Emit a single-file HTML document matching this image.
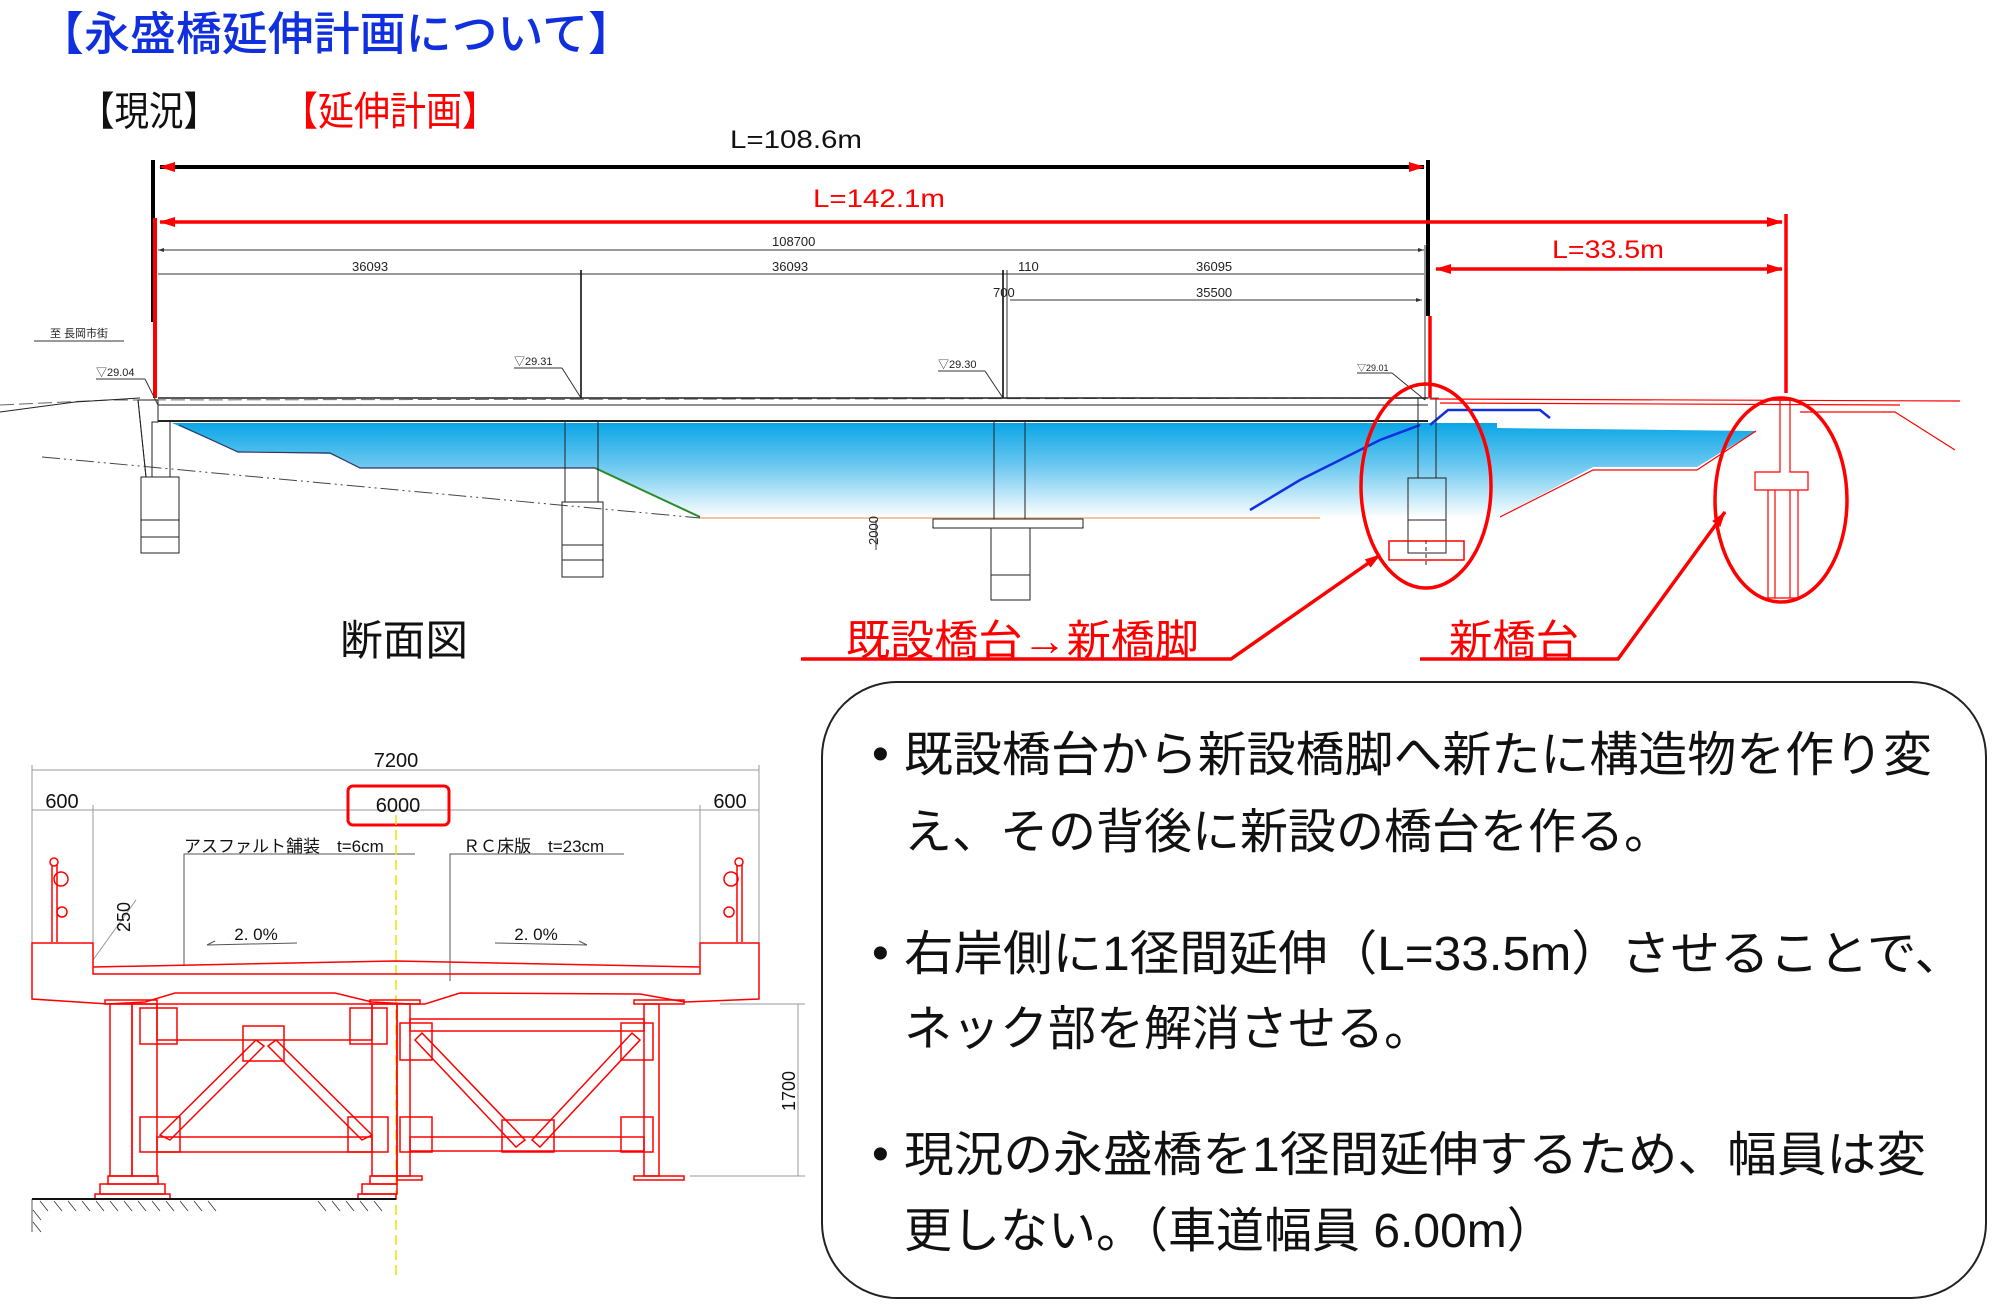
<!DOCTYPE html>
<html><head><meta charset="utf-8"><style>
html,body{margin:0;padding:0;background:#fff}
svg{display:block}
.jp{font-family:"Liberation Sans","Noto Sans CJK JP",sans-serif}
</style></head><body>
<svg width="2000" height="1310" viewBox="0 0 2000 1310" xmlns="http://www.w3.org/2000/svg" class="jp">
<defs>
<linearGradient id="wg" x1="0" y1="0" x2="0" y2="1">
<stop offset="0" stop-color="#0aa6e6"/><stop offset="0.45" stop-color="#6cc8f0"/><stop offset="1" stop-color="#ffffff"/>
</linearGradient>
<marker id="ab" markerWidth="10" markerHeight="8" refX="9" refY="4" orient="auto-start-reverse" markerUnits="userSpaceOnUse"><path d="M0,0 L10,4 L0,8 z" fill="#000"/></marker>
<marker id="ar" markerWidth="16" markerHeight="10" refX="15" refY="5" orient="auto-start-reverse" markerUnits="userSpaceOnUse"><path d="M0,0 L16,5 L0,10 z" fill="#f00"/></marker>
<marker id="sm" markerWidth="6" markerHeight="4" refX="6" refY="2" orient="auto-start-reverse" markerUnits="userSpaceOnUse"><path d="M0,0 L6,2 L0,4 z" fill="#333"/></marker>
</defs>

<text x="38" y="50" font-size="46" fill="#1030e0" font-weight="500" textLength="596" lengthAdjust="spacingAndGlyphs">【永盛橋延伸計画について】</text>
<text x="80" y="125" font-size="40" fill="#111" textLength="138" lengthAdjust="spacingAndGlyphs">【現況】</text>
<text x="282" y="125" font-size="40" fill="#f00" textLength="216" lengthAdjust="spacingAndGlyphs">【延伸計画】</text>

<text x="730" y="148" font-size="25" fill="#111" textLength="132" lengthAdjust="spacingAndGlyphs">L=108.6m</text>
<line x1="153" y1="160" x2="153" y2="322" stroke="#000" stroke-width="4"/>
<line x1="1428" y1="160" x2="1428" y2="316" stroke="#000" stroke-width="4"/>
<line x1="160" y1="167" x2="1424" y2="167" stroke="#000" stroke-width="4" marker-start="url(#ar)" marker-end="url(#ar)"/>
<text x="813" y="207" font-size="25" fill="#f00" textLength="132" lengthAdjust="spacingAndGlyphs">L=142.1m</text>
<line x1="155" y1="218" x2="155" y2="398" stroke="#f00" stroke-width="4"/>
<line x1="160" y1="222" x2="1782" y2="222" stroke="#f00" stroke-width="3.5" marker-start="url(#ar)" marker-end="url(#ar)"/>
<line x1="1786" y1="214" x2="1786" y2="393" stroke="#f00" stroke-width="3.5"/>
<line x1="1430" y1="316" x2="1430" y2="398" stroke="#f00" stroke-width="3.5"/>
<text x="1552" y="258" font-size="25" fill="#f00" textLength="112" lengthAdjust="spacingAndGlyphs">L=33.5m</text>
<line x1="1436" y1="269" x2="1782" y2="269" stroke="#f00" stroke-width="3.5" marker-start="url(#ar)" marker-end="url(#ar)"/>

<g stroke="#333" stroke-width="1" fill="none">
<line x1="158" y1="250" x2="1424" y2="250" marker-start="url(#sm)" marker-end="url(#sm)"/>
<line x1="158" y1="274" x2="1424" y2="274"/>
<line x1="1010" y1="300" x2="1422" y2="300" marker-end="url(#sm)"/>
<line x1="581" y1="270" x2="581" y2="398" stroke="#000" stroke-width="1.5"/>
<line x1="1003" y1="270" x2="1003" y2="398" stroke="#000" stroke-width="1.5"/>
<line x1="1007" y1="270" x2="1007" y2="398"/>
<line x1="1425" y1="245" x2="1425" y2="400"/>
</g>
<g font-size="13" fill="#222">
<text x="772" y="246">108700</text>
<text x="352" y="271">36093</text>
<text x="772" y="271">36093</text>
<text x="1018" y="271">110</text>
<text x="1196" y="271">36095</text>
<text x="993" y="297">700</text>
<text x="1196" y="297">35500</text>
<text x="50" y="337" font-size="11">至 長岡市街</text>
<text x="96" y="376" font-size="11">▽29.04</text>
<text x="514" y="365" font-size="11">▽29.31</text>
<text x="938" y="368" font-size="11">▽29.30</text>
<text x="1357" y="371" font-size="9">▽29.01</text>
</g>
<g stroke="#333" stroke-width="1" fill="none">
<line x1="34" y1="341" x2="124" y2="341"/>
<line x1="96" y1="379" x2="145" y2="379"/><line x1="145" y1="379" x2="158" y2="405"/>
<line x1="514" y1="368" x2="562" y2="368"/><line x1="562" y1="368" x2="581" y2="398"/>
<line x1="938" y1="371" x2="985" y2="371"/><line x1="985" y1="371" x2="1003" y2="398"/>
<line x1="1357" y1="373" x2="1392" y2="373"/><line x1="1392" y1="373" x2="1425" y2="400"/>
</g>

<path d="M172,423 L1497,423 L1497,428 L1756,431 L1697,467 L1593,467 L1500,517 L700,518 L595,468 L360,468 L330,454 L238,452 Z" fill="url(#wg)"/>
<path d="M179,425 L238,452 L330,453 L360,468 L595,468" stroke="#336" stroke-width="1.2" fill="none"/>
<path d="M595,468 L700,517" stroke="#2a8a2a" stroke-width="2" fill="none"/>
<line x1="700" y1="518" x2="1320" y2="518" stroke="#f0b080" stroke-width="1.5"/>
<path d="M1250,510 L1300,480 L1380,440 L1420,425" stroke="#1030e0" stroke-width="2.5" fill="none"/>
<path d="M1430,425 L1448,410 L1540,410 L1550,418" stroke="#1030e0" stroke-width="2.5" fill="none"/>

<g stroke="#222" fill="none">
<path d="M0,405 L110,400 L1440,398" stroke-dasharray="14,5" stroke="#666"/>
<line x1="158" y1="398" x2="1428" y2="398" stroke-width="1.5"/>
<line x1="158" y1="405" x2="1428" y2="405"/>
<line x1="158" y1="421" x2="1428" y2="421" stroke-width="2"/>
<path d="M0,412 L75,402 L140,398"/>
<line x1="42" y1="457" x2="700" y2="518" stroke-dasharray="18,4,2,4,2,4" stroke="#444"/>
<path d="M138,400 L158,400 L158,422 L152,422 L152,477 L146,477 Z"/>
<line x1="138" y1="400" x2="146" y2="477"/>
<rect x="141" y="477" width="38" height="76"/>
<line x1="141" y1="520" x2="179" y2="520"/><line x1="141" y1="537" x2="179" y2="537"/>
<line x1="152" y1="422" x2="152" y2="477"/><line x1="170" y1="422" x2="170" y2="477"/>
<line x1="565" y1="422" x2="565" y2="502"/><line x1="598" y1="422" x2="598" y2="502"/>
<rect x="562" y="502" width="41" height="75"/>
<line x1="562" y1="545" x2="603" y2="545"/><line x1="562" y1="560" x2="603" y2="560"/>
<line x1="994" y1="422" x2="994" y2="519"/><line x1="1025" y1="422" x2="1025" y2="519"/>
<rect x="933" y="519" width="150" height="9"/>
<rect x="991" y="528" width="39" height="72"/>
<line x1="991" y1="575" x2="1030" y2="575"/>
<line x1="1418" y1="398" x2="1418" y2="478"/><line x1="1436" y1="398" x2="1436" y2="478"/>
<rect x="1408" y="478" width="38" height="75"/>
<line x1="1408" y1="520" x2="1446" y2="520"/>
<line x1="1426" y1="540" x2="1426" y2="565" stroke-dasharray="4,3"/>
</g>
<text x="878" y="545" font-size="13" fill="#222" transform="rotate(-90 878 545)">2000</text>
<line x1="876" y1="520" x2="876" y2="550" stroke="#333"/>
<rect x="1389" y="541" width="75" height="19" fill="none" stroke="#f00" stroke-width="1.5"/>

<g stroke="#f00" fill="none" stroke-width="1.2">
<line x1="1430" y1="399" x2="1960" y2="401"/>
<line x1="1440" y1="403" x2="1900" y2="405"/>
<path d="M1883,412 L1895,412 L1955,450"/>
<path d="M1800,412 L1884,412"/>
<path d="M1500,517 L1593,470 L1697,470 L1756,431"/>
<path d="M1780,398 L1780,472 L1755,472 L1755,490 L1808,490 L1808,472 L1790,472 L1790,398"/>
<line x1="1768" y1="490" x2="1768" y2="598"/><line x1="1775" y1="490" x2="1775" y2="598"/>
<line x1="1790" y1="490" x2="1790" y2="598"/><line x1="1798" y1="490" x2="1798" y2="598"/>
<line x1="1765" y1="598" x2="1800" y2="598"/>
</g>
<ellipse cx="1426" cy="486" rx="65" ry="102" fill="none" stroke="#f00" stroke-width="3.5"/>
<ellipse cx="1781" cy="500" rx="66" ry="102" fill="none" stroke="#f00" stroke-width="3.5"/>

<text x="340" y="655" font-size="42" fill="#111" textLength="128" lengthAdjust="spacingAndGlyphs">断面図</text>
<text x="846" y="655" font-size="42" fill="#f00" textLength="353" lengthAdjust="spacingAndGlyphs">既設橋台→新橋脚</text>
<polyline points="801,659 1231,659 1380,555" fill="none" stroke="#f00" stroke-width="3.5" marker-end="url(#ar)"/>
<text x="1449" y="655" font-size="42" fill="#f00" textLength="130" lengthAdjust="spacingAndGlyphs">新橋台</text>
<polyline points="1420,659 1618,659 1725,512" fill="none" stroke="#f00" stroke-width="3.5" marker-end="url(#ar)"/>

<rect x="822" y="682" width="1164" height="616" rx="75" ry="75" fill="#fff" stroke="#222" stroke-width="2"/>
<g font-size="48" fill="#111">
<text x="872" y="770">•</text><text x="904" y="771" textLength="1028" lengthAdjust="spacingAndGlyphs">既設橋台から新設橋脚へ新たに構造物を作り変</text>
<text x="904" y="848">え、その背後に新設の橋台を作る。</text>
<text x="872" y="969">•</text><text x="904" y="970" textLength="1060" lengthAdjust="spacingAndGlyphs">右岸側に1径間延伸（L=33.5m）させることで、</text>
<text x="904" y="1045">ネック部を解消させる。</text>
<text x="872" y="1170">•</text><text x="904" y="1171" textLength="1022" lengthAdjust="spacingAndGlyphs">現況の永盛橋を1径間延伸するため、幅員は変</text>
<text x="904" y="1247">更しない。（車道幅員 6.00m）</text>
</g>

<g stroke="#999" stroke-width="1" fill="none">
<line x1="32" y1="770" x2="759" y2="770"/>
<line x1="32" y1="810" x2="759" y2="810"/>
<line x1="32" y1="765" x2="32" y2="943"/><line x1="759" y1="765" x2="759" y2="943"/>
<line x1="93" y1="805" x2="93" y2="945"/><line x1="700" y1="805" x2="700" y2="945"/>
<line x1="798" y1="1004" x2="798" y2="1176"/>
<line x1="720" y1="1004" x2="805" y2="1004"/><line x1="690" y1="1176" x2="805" y2="1176"/>
<line x1="93" y1="960" x2="136" y2="900"/>
</g>
<g font-size="20" fill="#111">
<text x="396" y="767" text-anchor="middle">7200</text>
<text x="62" y="808" text-anchor="middle">600</text>
<text x="730" y="808" text-anchor="middle">600</text>
<text x="398" y="812" text-anchor="middle">6000</text>
<text x="184" y="852" font-size="17">アスファルト舗装　t=6cm</text>
<text x="463" y="852" font-size="17">ＲＣ床版　t=23cm</text>
<text x="256" y="940" font-size="17" text-anchor="middle">2. 0%</text>
<text x="536" y="940" font-size="17" text-anchor="middle">2. 0%</text>
<text x="130" y="917" font-size="18" transform="rotate(-90 130 917)" text-anchor="middle">250</text>
<text x="795" y="1091" font-size="18" transform="rotate(-90 795 1091)" text-anchor="middle">1700</text>
</g>
<rect x="348" y="786" width="101" height="39" rx="5" fill="none" stroke="#f00" stroke-width="3"/>
<g stroke="#555" stroke-width="1" fill="none">
<polyline points="415,854 184,854 184,966"/>
<polyline points="624,854 450,854 450,981"/>
<polyline points="297,943 207,945 215,941"/>
<polyline points="495,943 587,945 579,941"/>
</g>
<line x1="396" y1="815" x2="396" y2="1280" stroke="#f0e000" stroke-width="1.5" stroke-dasharray="10,5"/>
<g stroke="#f00" stroke-width="1.5" fill="none">
<path d="M32,943 L93,943 L93,974 L700,974 L700,943 L759,943 L759,999 L685,1002 L640,994 L460,993 L425,1004 L410,1004 L372,1002 L335,993 L175,993 L145,1002 L108,1004 L32,999 Z"/>
<path d="M93,967 L396,961 L700,967"/>
<path d="M52,942 L52,865 M57,942 L57,865"/>
<circle cx="54" cy="862" r="4"/><circle cx="61" cy="879" r="7"/><circle cx="62" cy="912" r="5"/>
<path d="M737,942 L737,865 M742,942 L742,865"/>
<circle cx="739" cy="862" r="4"/><circle cx="731" cy="879" r="7"/><circle cx="729" cy="912" r="5"/>
<rect x="110" y="1004" width="22" height="172"/><rect x="132" y="1004" width="25" height="172"/>
<rect x="372" y="1004" width="25" height="172"/>
<rect x="397" y="1004" width="13" height="172"/>
<rect x="644" y="1004" width="15" height="172"/>
<rect x="105" y="1000" width="52" height="4"/><rect x="370" y="1000" width="50" height="4"/><rect x="634" y="1000" width="50" height="4"/>
<rect x="397" y="1176" width="25" height="4"/><rect x="634" y="1176" width="50" height="4"/>
<rect x="157" y="1004" width="215" height="36"/>
<rect x="140" y="1008" width="37" height="36"/><rect x="350" y="1008" width="37" height="36"/>
<rect x="157" y="1137" width="215" height="15"/>
<rect x="140" y="1117" width="40" height="35"/><rect x="348" y="1117" width="40" height="35"/>
<rect x="243" y="1026" width="41" height="35"/>
<path d="M160,1135 L256,1040 L264,1046 L170,1140 Z"/>
<path d="M268,1046 L276,1040 L372,1135 L362,1140 Z"/>
<rect x="410" y="1019" width="234" height="12"/>
<rect x="400" y="1023" width="32" height="37"/><rect x="621" y="1023" width="32" height="37"/>
<rect x="410" y="1137" width="234" height="14"/>
<rect x="400" y="1117" width="32" height="35"/><rect x="621" y="1117" width="32" height="35"/>
<rect x="502" y="1120" width="52" height="32"/>
<path d="M415,1040 L422,1033 L525,1140 L516,1147 Z"/>
<path d="M532,1140 L632,1033 L640,1040 L540,1147 Z"/>
<rect x="108" y="1176" width="50" height="8"/><rect x="100" y="1184" width="65" height="10"/><rect x="95" y="1194" width="75" height="5"/>
<rect x="370" y="1176" width="27" height="8"/><rect x="362" y="1184" width="35" height="10"/><rect x="358" y="1194" width="38" height="5"/>
</g>
<line x1="32" y1="1199" x2="396" y2="1199" stroke="#111" stroke-width="2"/>
<g stroke="#333" stroke-width="0.8">
<path d="M40,1201 l8,10 M54,1201 l8,10 M68,1201 l8,10 M82,1201 l8,10 M96,1201 l8,10 M110,1201 l8,10 M124,1201 l8,10 M138,1201 l8,10 M152,1201 l8,10 M166,1201 l8,10 M180,1201 l8,10 M194,1201 l8,10 M208,1201 l8,10 M318,1201 l8,10 M332,1201 l8,10 M346,1201 l8,10 M360,1201 l8,10 M374,1201 l8,10"/>
<line x1="32" y1="1199" x2="32" y2="1232"/>
<path d="M33,1210 l8,10 M33,1222 l8,10"/>
</g>
</svg>
</body></html>
